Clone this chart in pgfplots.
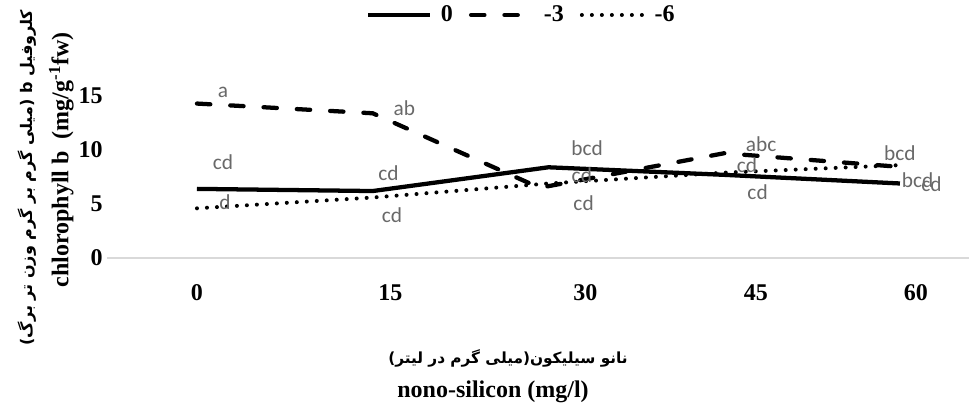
\documentclass[border=0pt]{standalone}
\usepackage{fontspec}
\setmainfont{Liberation Serif}
\newfontfamily\carlito{Carlito}
\newfontfamily\arabicfont[Script=Arabic]{DejaVu Sans}
\TeXXeTstate=1
\usepackage{pgfplots}
\pgfplotsset{compat=1.18}
\definecolor{labgray}{RGB}{105,105,105}
\tikzset{mylab/.style={font=\carlito\fontsize{16}{18}\selectfont, text=labgray, inner sep=0pt}}
\begin{document}
\begin{tikzpicture}
\path[use as bounding box] (0,0) rectangle (726.75pt,305.25pt);
\begin{axis}[
  at={(80.25pt,111.75pt)}, anchor=south west,
  scale only axis, width=646.5pt, height=145.8pt,
  xmin=-0.512, xmax=4.393, ymin=0, ymax=18,
  axis x line*=bottom, axis y line*=left,
  x axis line style={draw=black!15, line width=1.2pt, -},
  y axis line style={draw=none},
  tick style={draw=none}, major tick length=0pt,
  xtick={0,1.10,2.21,3.18,4.09}, xticklabels={0,15,30,45,60},
  ytick={0,5,10,15}, yticklabels={0,5,10,15},
  xticklabel style={anchor=center, yshift=-26.25pt, font=\bfseries\fontsize{18}{20}\selectfont},
  yticklabel style={anchor=east, inner sep=0pt, xshift=-3pt, font=\bfseries\fontsize{18}{20}\selectfont},
  clip=false,
  legend columns=3,
  legend style={at={(0.481,1.25)}, anchor=center, draw=none, fill=none,
    font=\bfseries\fontsize{18}{20}\selectfont, column sep=5pt,
    /tikz/every even column/.append style={column sep=10pt}},
  legend image code/.code={\draw[#1] (0pt,0pt) -- (46pt,0pt);},
]
\addplot[black, line width=3.2pt] coordinates {(0,6.4) (1,6.2) (2,8.4) (3,7.7) (4,6.9)};
\addlegendentry{0}
\addplot[black, line width=3.2pt, line cap=round, dash pattern=on 10pt off 15pt] coordinates {(0,14.3) (1,13.4) (1.95,6.5) (3,9.7) (3.95,8.5)};
\addlegendentry{-3}
\addplot[black, line width=3pt, line cap=round, dash pattern=on 0pt off 7.5pt] coordinates {(0,4.6) (1,5.6) (2,6.9) (3,7.9) (4,8.6)};
\addlegendentry{-6}
\node[mylab] at (axis cs:0.148,15.3) {a};
\node[mylab] at (axis cs:0.148,8.9) {cd};
\node[mylab] at (axis cs:0.16,5.2) {d};
\node[mylab] at (axis cs:1.18,13.9) {ab};
\node[mylab] at (axis cs:1.09,7.9) {cd};
\node[mylab] at (axis cs:1.11,4.0) {cd};
\node[mylab] at (axis cs:2.22,10.2) {bcd};
\node[mylab] at (axis cs:2.19,7.7) {cd};
\node[mylab] at (axis cs:2.20,5.1) {cd};
\node[mylab] at (axis cs:3.21,10.5) {abc};
\node[mylab] at (axis cs:3.13,8.6) {cd};
\node[mylab] at (axis cs:3.19,6.1) {cd};
\node[mylab] at (axis cs:4.0,9.7) {bcd};
\node[mylab] at (axis cs:4.10,7.2) {bcd};
\node[mylab] at (axis cs:4.18,6.8) {cd};
\end{axis}
\node[rotate=90, font=\bfseries\fontsize{18}{20}\selectfont] at (46pt,185.25pt) {chlorophyll b\ \ (mg/g\textsuperscript{-1}fw)};
\node[rotate=90, font=\arabicfont\bfseries\fontsize{12}{14}\selectfont] at (20.25pt,172pt) {\beginR کلروفیل b (میلی گرم بر گرم وزن تر برگ)\endR};
\node[font=\arabicfont\bfseries\fontsize{11.5}{14}\selectfont] at (381pt,36.75pt) {\beginR نانو سیلیکون(میلی گرم در لیتر)\endR};
\node[font=\bfseries\fontsize{18}{20}\selectfont] at (369.75pt,11.25pt) {nono-silicon (mg/l)};
\end{tikzpicture}
\end{document}
